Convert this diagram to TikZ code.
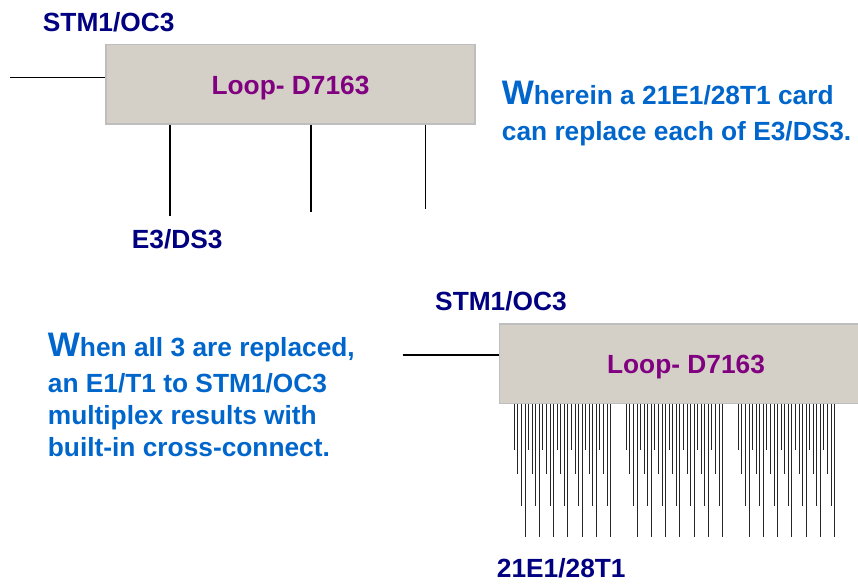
\documentclass[tikz,border=0pt]{standalone}
\usepackage{fontspec}
\setmainfont{Liberation Sans}
\definecolor{navylbl}{RGB}{0,0,128}
\definecolor{purplelbl}{RGB}{128,0,128}
\definecolor{bluetxt}{RGB}{0,102,204}
\definecolor{boxfill}{RGB}{212,208,200}
\definecolor{boxline}{RGB}{190,190,190}
\tikzset{
  lbl/.style={anchor=base west, inner sep=0pt, text=navylbl, font=\bfseries\fontsize{26.3}{30}\selectfont},
  note/.style={anchor=base west, inner sep=0pt, text=bluetxt, font=\bfseries\fontsize{26.3}{30}\selectfont},
  loopbox/.style={rectangle, fill=boxfill, draw=boxline, line width=1.5pt, minimum width=369pt, minimum height=79.3pt,
    inner sep=0pt, text=purplelbl, font=\bfseries\fontsize{26.3}{30}\selectfont, text height=20pt, text depth=0pt},
  wire/.style={line width=1.5pt, black},
  comb/.style={line width=1pt, black!85},
}
\newcommand{\bigW}{{\fontsize{34}{34}\selectfont W}}
\begin{document}
\begin{tikzpicture}[x=1pt,y=-1pt]
\useasboundingbox (0,0) rectangle (858,583);
\clip (0,0) rectangle (858,583);

% ---- top diagram ----
\node[loopbox] (b1) at (290.5,84.4) {Loop- D7163};
\node[lbl] (stm1) at (42.7,31.7) {STM1/OC3};
\node[lbl] (e3) at (131.7,248.3) {E3/DS3};
\coordinate (in1) at (10,77.3);
\draw[wire] (in1) -- (in1 -| b1.west);
\coordinate (e3a) at (170,216);
\coordinate (e3b) at (311,212);
\coordinate (e3c) at (425.7,209.3);
\draw[wire] (b1.south -| e3a) -- (e3a);
\draw[wire] (b1.south -| e3b) -- (e3b);
\draw[wire] (b1.south -| e3c) -- (e3c);

% ---- note 1 ----
\node[note] (n1a) at (501.7,104.3) {\bigW herein a 21E1/28T1 card};
\node[note] (n1b) at (501.7,140) {can replace each of E3/DS3.};

% ---- note 2 ----
\node[note] (n2a) at (47.7,356) {\bigW hen all 3 are replaced,};
\node[note] (n2b) at (47.7,392.3) {an E1/T1 to STM1/OC3};
\node[note] (n2c) at (47.7,424.3) {multiplex results with};
\node[note] (n2d) at (47.7,456.7) {built-in cross-connect.};

% ---- bottom diagram ----
\node[loopbox, minimum width=373pt] (b2) at (686,363.65) {Loop- D7163};
\node[lbl] (stm2) at (435,310.7) {STM1/OC3};
\node[lbl] (t1) at (496.7,577.3) {21E1/28T1};
\coordinate (in2) at (402.7,355);
\draw[wire] (in2) -- (in2 -| b2.west);
\foreach \g in {0,1,2}{
  \foreach \i in {0,...,27}{
    \pgfmathsetmacro{\xx}{514.3+112*\g+3.57*\i}
    \pgfmathsetmacro{\yy}{{450,474.3,505.7,537.3}[int(mod(\i,4))]}
    \coordinate (e\g-\i) at (\xx,\yy);
    \draw[comb] (b2.south -| e\g-\i) -- (e\g-\i);
  }
}
\end{tikzpicture}
\end{document}
